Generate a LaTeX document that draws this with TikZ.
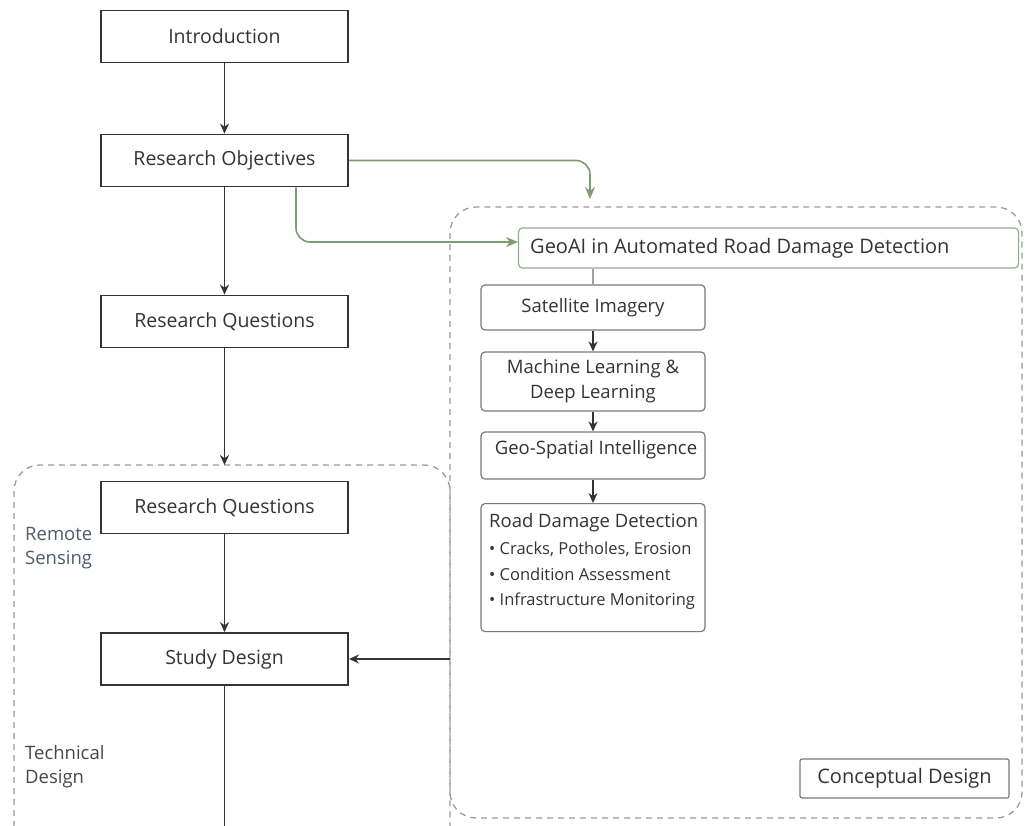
\documentclass[tikz,border=0pt]{standalone}
\usepackage{fontspec}
\setmainfont{Open Sans}
\usetikzlibrary{arrows.meta}
\definecolor{ink}{HTML}{333333}
\definecolor{greenln}{HTML}{7E9B72}
\definecolor{greenbd}{HTML}{93AA93}
\definecolor{dashc}{HTML}{9A9A9A}
\definecolor{boxgray}{HTML}{7A7A7A}
\definecolor{sidec}{HTML}{4F5B70}
\begin{document}
\begin{tikzpicture}[x=1pt,y=-1pt,
  mainbox/.style={draw=ink,line width=1.9pt,minimum width=247pt,minimum height=52pt,inner sep=0pt,font=\fontsize{19.5}{22}\selectfont,text=ink},
  subbox/.style={draw=boxgray,line width=1.2pt,rounded corners=4pt,minimum width=224pt,inner sep=0pt,font=\fontsize{18.5}{25}\selectfont,text=ink,align=center},
  darr/.style={draw=ink,line width=1.7pt,-{Stealth[length=10pt,width=9pt]}},
  garr/.style={draw=greenln,line width=1.6pt,rounded corners=14pt,-{Stealth[length=12pt,width=10pt]}},
  dashbox/.style={draw=dashc,line width=1.3pt,dash pattern=on 6pt off 5pt,rounded corners=26pt},
  side/.style={anchor=north west,align=left,font=\fontsize{18.5}{24}\selectfont,text=sidec,inner sep=0pt}
]
\useasboundingbox (0,0) rectangle (1025,825);
% dashed containers
\draw[dashbox] (14,838) -- (14,465) -- (450,465) -- (450,838);
\draw[dashbox] (450,207) rectangle (1022,818);

% main column
\node[mainbox] (intro) at (224.5,36.5) {Introduction};
\node[mainbox] (obj) at (224.5,160.5) {Research Objectives};
\node[mainbox] (rq1) at (224.5,321.5) {Research Questions};
\node[mainbox] (rq2) at (224.5,507.5) {Research Questions};
\node[mainbox] (sd) at (224.5,659) {Study Design};
\coordinate (lefttop) at (224.5,465);
\coordinate (bottom) at (224.5,830);
\coordinate (rbox) at (450,659);
\coordinate (rtop) at (590,199);
\coordinate (gin) at (518,242);

\draw[darr] (intro) -- (obj);
\draw[darr] (obj) -- (rq1);
\draw[darr] (rq1) -- (lefttop);
\draw[darr] (rq2) -- (sd);
\draw[draw=ink,line width=1.7pt] (sd) -- (bottom);
\draw[darr] (rbox) -- (sd);

% right column
\node[subbox,draw=greenbd,minimum width=500pt,minimum height=40pt] (geo) at (768.5,248) {};
\node[anchor=west,inner sep=0pt,text=ink,font=\fontsize{20}{22}\selectfont] (geot) at (530,248) {GeoAI in Automated Road Damage Detection};
\node[subbox,minimum height=45pt] (sat) at (593,307.5) {Satellite Imagery};
\node[subbox,minimum height=59pt] (ml) at (593,381.5) {Machine Learning \&\\Deep Learning};
\node[subbox,minimum height=47pt] (gsi) at (593,455.5) {};
\node[inner sep=0pt,text=ink,font=\fontsize{18.5}{22}\selectfont] (gsit) at (596,450) {Geo-Spatial Intelligence};
\node[subbox,minimum height=128pt,anchor=north] (rdd) at (593,503) {};
\node[anchor=north west,inner sep=0pt,text=ink,font=\fontsize{18.5}{22}\selectfont] (rddt) at (489,513) {Road Damage Detection};
\node[anchor=north west,inner sep=0pt,text=ink,align=left,font=\fontsize{16.5}{25.5}\selectfont] (rddb) at (489,542)
  {\textbullet\ Cracks, Potholes, Erosion\\\textbullet\ Condition Assessment\\\textbullet\ Infrastructure Monitoring};
\node[subbox,draw=boxgray,rounded corners=2pt,minimum width=209pt,minimum height=39pt,font=\fontsize{20}{22}\selectfont] (cd) at (904.5,778.5) {Conceptual Design};

\draw[draw=greenbd,line width=1.2pt] (geo.south -| sat.north) -- (sat.north);
\draw[darr,line width=1.4pt] (sat) -- (ml);
\draw[darr,line width=1.4pt] (ml) -- (gsi);
\draw[darr,line width=1.4pt] (gsi) -- (rdd);

% green connectors
\draw[garr] (obj.east) -- (590,160.5) -- (rtop);
\draw[garr] (obj.south -| 296,0) -- (296,242) -- (gin);

% side labels
\node[side] (rs) at (25,527) {Remote\\Sensing};
\node[side,text=ink!90] (td) at (25,745) {Technical\\Design};
\end{tikzpicture}
\end{document}
